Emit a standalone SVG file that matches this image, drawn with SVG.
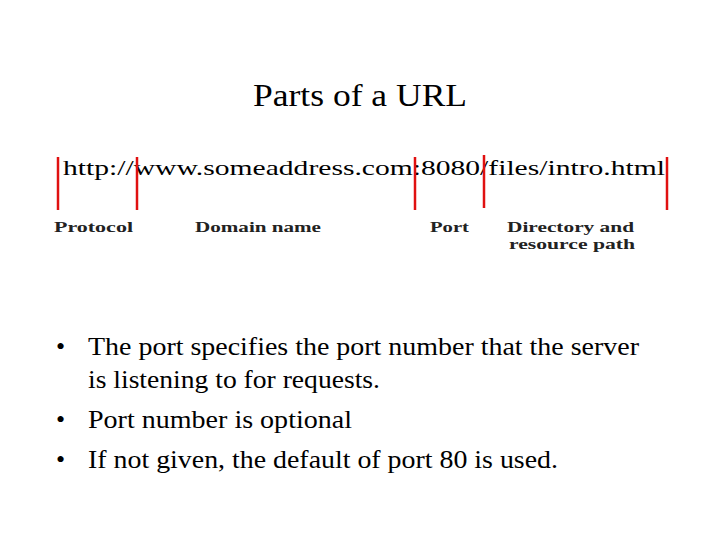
<svg xmlns="http://www.w3.org/2000/svg" width="720" height="540" viewBox="0 0 720 540">
<style>
.t{font-family:"Liberation Serif","Times New Roman",Times,serif;fill:#000}
.l{font-family:"Liberation Serif","Times New Roman",serif;font-weight:bold;font-size:14px;fill:#222}
.r{stroke:#e01010;stroke-width:2.5}
</style>
<rect width="720" height="540" fill="#fff"/>
<text class="t" x="253" y="106" font-size="32" textLength="214" lengthAdjust="spacingAndGlyphs">Parts of a URL</text>
<g id="url">
<text class="t" x="63" y="175" font-size="22" textLength="602" lengthAdjust="spacingAndGlyphs">http://www.someaddress.com:8080/files/intro.html</text>
</g>
<g id="connectors">
<line class="r" x1="58" y1="157" x2="58" y2="210"/>
<line class="r" x1="137" y1="157" x2="137" y2="210"/>
<line class="r" x1="415" y1="157" x2="415" y2="210"/>
<line class="r" x1="484" y1="155" x2="484" y2="208"/>
<line class="r" x1="667" y1="157" x2="667" y2="210"/>
</g>
<g id="labels">
<text class="l" x="54" y="232" textLength="79" lengthAdjust="spacingAndGlyphs">Protocol</text>
<text class="l" x="195" y="232" textLength="126" lengthAdjust="spacingAndGlyphs">Domain name</text>
<text class="l" x="430" y="232" textLength="39" lengthAdjust="spacingAndGlyphs">Port</text>
<text class="l" x="507" y="232" textLength="127" lengthAdjust="spacingAndGlyphs">Directory and</text>
<text class="l" x="509" y="249" textLength="126" lengthAdjust="spacingAndGlyphs">resource path</text>
</g>
<g id="bullets" class="t" font-size="26">
<text x="56" y="355">•</text>
<text x="88" y="355" textLength="551" lengthAdjust="spacingAndGlyphs">The port specifies the port number that the server</text>
<text x="88" y="388" textLength="292" lengthAdjust="spacingAndGlyphs">is listening to for requests.</text>
<text x="56" y="428">•</text>
<text x="88" y="428" textLength="264" lengthAdjust="spacingAndGlyphs">Port number is optional</text>
<text x="56" y="468">•</text>
<text x="88" y="468" textLength="470" lengthAdjust="spacingAndGlyphs">If not given, the default of port 80 is used.</text>
</g>
</svg>
